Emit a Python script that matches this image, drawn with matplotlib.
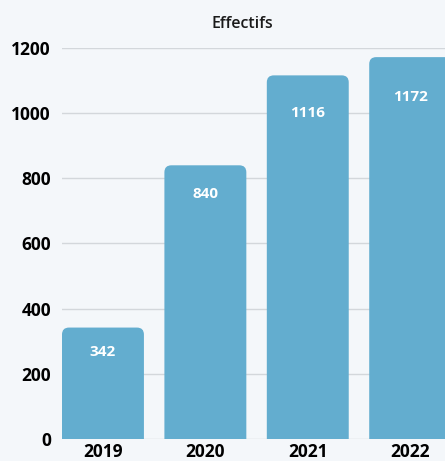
import matplotlib
matplotlib.use("Agg")
import matplotlib.pyplot as plt
from matplotlib.patches import PathPatch
from matplotlib.path import Path

# données
annees = ["2019", "2020", "2021", "2022"]
effectifs = [342, 840, 1116, 1172]
yticks = [0, 200, 400, 600, 800, 1000, 1200]

fond = "#f4f7fa"
bleu = "#63adcf"

plt.rcParams['font.family'] = ['Open Sans', 'DejaVu Sans']

fig = plt.figure(figsize=(4.45, 4.61), dpi=100, facecolor=fond)
ax = fig.add_axes([62 / 445, 1 - 439 / 461, 1 - 62 / 445, (439 - 48) / 461])
ax.set_facecolor(fond)

largeur = 0.8
xs = list(range(len(annees)))
ax.set_xlim(-0.4, 3.34)
ax.set_ylim(0, 1200)

# échelle pixels pour arrondir les coins
px_x = 102.5
px_y = 391 / 1200
rx = 7 / px_x
ry = 7 / px_y


def barre_arrondie(g, w, h):
    verts = [(g, 0), (g, h - ry), (g, h), (g + rx, h),
             (g + w - rx, h), (g + w, h), (g + w, h - ry), (g + w, 0), (g, 0)]
    codes = [Path.MOVETO, Path.LINETO, Path.CURVE3, Path.CURVE3,
             Path.LINETO, Path.CURVE3, Path.CURVE3, Path.LINETO, Path.CLOSEPOLY]
    return PathPatch(Path(verts, codes), fc=bleu, ec="none", zorder=2)


for x, v in zip(xs, effectifs):
    ax.add_patch(barre_arrondie(x - largeur / 2, largeur, v))
    decal = max(75, 0.1 * v + 5)
    ax.text(x, v - decal, str(v), ha="center", va="center", color="white",
            fontsize=11, fontweight="bold", zorder=3)

ax.set_yticks(yticks)
ax.set_xticks(xs)
ax.set_xticklabels(annees)
ax.grid(axis="y", color="#d3d7db", linewidth=1, zorder=0)
ax.set_axisbelow(True)
for s in ax.spines.values():
    s.set_visible(False)
ax.tick_params(axis="both", length=0, labelsize=12.5, labelcolor="black")
ax.tick_params(axis="y", pad=8)
ax.tick_params(axis="x", pad=3)
for lab in ax.get_xticklabels() + ax.get_yticklabels():
    lab.set_fontweight("bold")

fig.text(242 / 445, 1 - 24 / 461, "Effectifs", ha="center", va="center",
         fontsize=11.5, fontweight="semibold", color="#1a1a1a")

fig.savefig("out.png", dpi=100, facecolor=fond)
